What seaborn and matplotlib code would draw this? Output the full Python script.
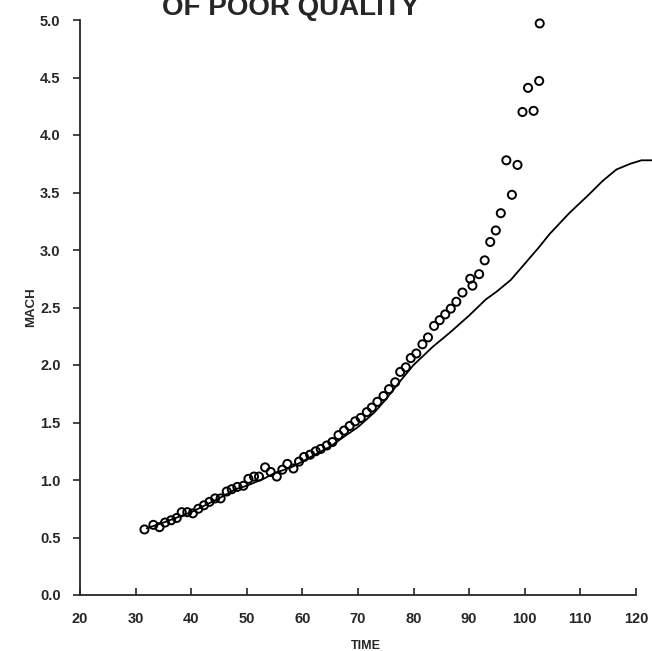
import matplotlib
matplotlib.use("Agg")
import matplotlib.pyplot as plt
import seaborn as sns
import pandas as pd

# Measured flight data (open circles)
meas_time = [31.6, 33.2, 34.3, 35.3, 36.4, 37.4, 38.3, 39.3, 40.3, 41.3,
             42.3, 43.3, 44.3, 45.3, 46.4, 47.3, 48.3, 49.4, 50.3, 51.3,
             52.2, 53.3, 54.3, 55.4, 56.4, 57.3, 58.4, 59.4, 60.3, 61.4,
             62.4, 63.3, 64.4, 65.4, 66.5, 67.5, 68.5, 69.5, 70.5, 71.6,
             72.5, 73.5, 74.6, 75.6, 76.7, 77.6, 78.6, 79.5, 80.5, 81.6,
             82.6, 83.7, 84.7, 85.7, 86.7, 87.7, 88.8, 90.2, 90.6, 91.8,
             92.8, 93.8, 94.8, 95.7, 96.7, 97.7, 98.7, 99.6, 100.6, 101.6,
             102.6, 102.7]
meas_mach = [0.57, 0.61, 0.59, 0.63, 0.65, 0.67, 0.72, 0.72, 0.71, 0.75,
             0.78, 0.81, 0.84, 0.84, 0.90, 0.92, 0.94, 0.95, 1.01, 1.03,
             1.03, 1.11, 1.07, 1.03, 1.09, 1.14, 1.10, 1.16, 1.20, 1.22,
             1.25, 1.27, 1.30, 1.33, 1.39, 1.43, 1.47, 1.51, 1.54, 1.59,
             1.63, 1.68, 1.73, 1.79, 1.85, 1.94, 1.98, 2.06, 2.10, 2.18,
             2.24, 2.34, 2.39, 2.44, 2.49, 2.55, 2.63, 2.75, 2.69, 2.79,
             2.91, 3.07, 3.17, 3.32, 3.78, 3.48, 3.74, 4.20, 4.41, 4.21,
             4.47, 4.97]

# Predicted trajectory (solid line)
pred_time = [32.0, 35.0, 40.0, 45.0, 48.0, 50.0, 53.0, 55.0, 58.0, 60.0,
             63.0, 65.0, 67.0, 70.0, 73.0, 75.0, 77.6, 80.0, 83.5, 86.5,
             90.0, 93.0, 95.0, 97.5, 100.0, 102.5, 104.5, 108.0, 111.5,
             114.0, 116.5, 119.0, 121.0, 123.0]
pred_mach = [0.58, 0.63, 0.72, 0.84, 0.92, 0.95, 1.01, 1.06, 1.11, 1.16,
             1.24, 1.29, 1.36, 1.46, 1.59, 1.70, 1.86, 2.00, 2.16, 2.28,
             2.43, 2.57, 2.64, 2.74, 2.88, 3.02, 3.14, 3.32, 3.48,
             3.60, 3.70, 3.75, 3.78, 3.78]

x_ticks = [20, 30, 40, 50, 60, 70, 80, 90, 100, 110, 120]
y_ticks = [0.0, 0.5, 1.0, 1.5, 2.0, 2.5, 3.0, 3.5, 4.0, 4.5, 5.0]

meas = pd.DataFrame({"TIME": meas_time, "MACH": meas_mach})
pred = pd.DataFrame({"TIME": pred_time, "MACH": pred_mach})

sns.set_style("ticks")
plt.rcParams["font.family"] = ["Liberation Sans", "DejaVu Sans"]

fig = plt.figure(figsize=(6.52, 6.51), dpi=100)
ax = fig.add_axes([80 / 652, 56 / 651, 572 / 652, 575 / 651])

sns.lineplot(data=pred, x="TIME", y="MACH", ax=ax, color="black",
             linewidth=1.3, sort=False, estimator=None)
sns.scatterplot(data=meas, x="TIME", y="MACH", ax=ax, marker="o",
                s=34, facecolor="none", edgecolor="black", linewidth=1.4,
                clip_on=False, zorder=3)

ax.set_xlim(20, 122.9)
ax.set_ylim(0, 5.0)
ax.set_xticks(x_ticks)
ax.set_yticks(y_ticks)
ax.set_xticklabels([str(v) for v in x_ticks], fontweight="bold", fontsize=10.5)
ax.set_yticklabels([f"{v:.1f}" for v in y_ticks], fontweight="bold", fontsize=10.5)

ax.tick_params(axis="x", direction="in", length=5, width=1.2, pad=12)
ax.tick_params(axis="y", direction="out", length=5, width=1.2, pad=9)

for side in ("top", "right"):
    ax.spines[side].set_visible(False)
ax.spines["bottom"].set_bounds(20, 120)
ax.spines["left"].set_linewidth(1.3)
ax.spines["bottom"].set_linewidth(1.3)

ax.set_xlabel("TIME", fontweight="bold", fontsize=9, labelpad=10)
ax.set_ylabel("MACH", fontweight="bold", fontsize=9.5, labelpad=2)

fig.text(291 / 652, 1 - 15 / 651, "OF POOR QUALITY", ha="center",
         va="baseline", fontsize=20, fontweight="bold")

fig.savefig("out.png", dpi=100, facecolor="white")
